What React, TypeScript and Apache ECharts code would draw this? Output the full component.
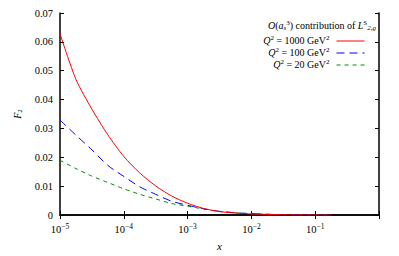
import React, { useEffect, useRef } from "react";
import * as echarts from "echarts";

const xValues = [1e-5, 1.778e-5, 3.162e-5, 5.623e-5, 1e-4, 1.778e-4, 3.162e-4, 5.623e-4, 1e-3, 1.778e-3, 3.162e-3, 5.623e-3, 1e-2, 3.162e-2, 1e-1, 1.778e-1];
const q1000 = [0.0628, 0.047, 0.0367, 0.0278, 0.0203, 0.0146, 0.0101, 0.0066, 0.0041, 0.0023, 0.0012, 0.0007, 0.0004, 0.0001, 0.00003, 0.00001];
const q100 = [0.0329, 0.0277, 0.0226, 0.0172, 0.0134, 0.0098, 0.0072, 0.0048, 0.0034, 0.0022, 0.0013, 0.0008, 0.0005, 0.0001, 0.00003, 0.00001];
const q20 = [0.019, 0.0161, 0.0135, 0.0113, 0.0091, 0.0072, 0.0056, 0.004, 0.0031, 0.0021, 0.0013, 0.0008, 0.0005, 0.0001, 0.00003, 0.00001];
const seriesNames = ["Q2 = 1000 GeV2", "Q2 = 100 GeV2", "Q2 = 20 GeV2"];
const legendLabels = ["1000", "100", "20"];
const yTicks = { min: 0, max: 0.07, interval: 0.01 };
const xRange = { min: 1e-5, max: 1 };

const FONT = "Liberation Serif";

const base = { fontFamily: FONT, fontWeight: "normal", color: "#000", verticalAlign: "bottom" };
const rich = {
  n: { ...base, fontSize: 10, lineHeight: 10, padding: [0, 0, 1, 0] },
  i: { ...base, fontSize: 10, lineHeight: 10, fontStyle: "italic", padding: [0, 0, 1, 0] },
  sup: { ...base, fontSize: 7, lineHeight: 7, padding: [0, 0, 5, 0] },
  sub: { ...base, fontSize: 7, lineHeight: 7, padding: [0, 0, 0, 0] },
  subi: { ...base, fontSize: 7, lineHeight: 7, fontStyle: "italic", padding: [0, 0, 0, 0] },
};

const tickRich = {
  n: { ...base, fontSize: 10.5, padding: [0, 0, 2, 0] },
  sup: { ...base, fontSize: 7.5, padding: [0, 0, 7, 0] },
};

function App() {
  const ref = useRef<HTMLDivElement>(null);
  useEffect(() => {
    if (!ref.current) return;
    const chart = echarts.init(ref.current, null, { renderer: "svg" });
    const colors = ["#ff0000", "#0000ff", "#008a00"];
    const dashes: any[] = ["solid", [8, 5], [4, 4]];
    const datasets = [q1000, q100, q20];
    const legendMap: Record<string, string> = {};
    seriesNames.forEach((n, k) => {
      legendMap[n] = `{i|Q}{sup|2}{n| = ${legendLabels[k]} GeV}{sup|2}`;
    });
    chart.setOption({
      animation: false,
      textStyle: { fontFamily: FONT, fontWeight: "normal" },
      grid: { left: 60, right: 20, top: 13, bottom: 39 },
      title: {
        text: "{i|O}{n|(}{i|a}{subi|s}{sup|3}{n|) contribution of }{i|L}{sup|S}{subi|2,g}",
        right: 23,
        top: 21,
        padding: 0,
        textStyle: { fontFamily: FONT, fontWeight: "normal", fontSize: 10, color: "#000", rich },
      },
      legend: {
        orient: "vertical",
        right: 34,
        top: 34,
        align: "right",
        itemWidth: 28,
        itemHeight: 8,
        itemGap: 0,
        padding: 0,
        itemStyle: { opacity: 0, borderWidth: 0 },
        lineStyle: { width: 1 },
        textStyle: { fontFamily: FONT, fontWeight: "normal", fontSize: 10, color: "#000", rich, padding: [0, 2, 0, 0] },
        formatter: (name: string) => legendMap[name],
        data: seriesNames,
      },
      xAxis: [
        {
          type: "log",
          logBase: 10,
          min: xRange.min,
          max: xRange.max,
          name: "x",
          nameLocation: "middle",
          nameGap: 24,
          nameTextStyle: { fontFamily: FONT, fontSize: 11, fontStyle: "italic", color: "#000" },
          axisLine: { lineStyle: { color: "#000", width: 1.5 } },
          axisTick: { inside: true, length: 4, lineStyle: { color: "#000", width: 1 } },
          minorTick: { show: false },
          splitLine: { show: false },
          axisLabel: {
            margin: 7,
            fontFamily: FONT,
            formatter: (v: number) => {
              const e = Math.round(Math.log10(v));
              if (e === 0) return "";
              return `{n|10}{sup|\u2212${-e}}`;
            },
            rich: tickRich,
          },
        },
        {
          type: "log",
          logBase: 10,
          min: xRange.min,
          max: xRange.max,
          position: "top",
          axisLine: { lineStyle: { color: "#000", width: 1.5 } },
          axisTick: { inside: true, length: 4, lineStyle: { color: "#000", width: 1 } },
          axisLabel: { show: false },
          splitLine: { show: false },
        },
      ],
      yAxis: [
        {
          type: "value",
          min: yTicks.min,
          max: yTicks.max,
          interval: yTicks.interval,
          name: "{i|F}{sub|2}",
          nameLocation: "middle",
          nameRotate: 90,
          nameGap: 37,
          nameTextStyle: { fontFamily: FONT, rich },
          axisLine: { show: true, lineStyle: { color: "#000", width: 1.5 } },
          axisTick: { show: true, inside: true, length: 4, lineStyle: { color: "#000", width: 1 } },
          splitLine: { show: false },
          axisLabel: { margin: 7, fontFamily: FONT, fontSize: 10.5, color: "#000" },
        },
        {
          type: "value",
          min: yTicks.min,
          max: yTicks.max,
          interval: yTicks.interval,
          position: "right",
          axisLine: { show: true, lineStyle: { color: "#000", width: 1.5 } },
          axisTick: { show: true, inside: true, length: 4, lineStyle: { color: "#000", width: 1 } },
          splitLine: { show: false },
          axisLabel: { show: false },
        },
      ],
      series: datasets.map((d, k) => ({
        name: seriesNames[k],
        type: "line",
        xAxisIndex: 0,
        yAxisIndex: 0,
        showSymbol: false,
        symbol: "none",
        smooth: 0.25,
        lineStyle: { color: colors[k], width: 1, type: dashes[k] },
        itemStyle: { color: colors[k] },
        data: xValues.map((x, j) => [x, d[j]]),
        z: 3 - k,
      })),
    });
    return () => chart.dispose();
  }, []);
  return <div ref={ref} style={{ width: 399, height: 256, position: "absolute", left: 0, top: 0 }} />;
}

export default App;
